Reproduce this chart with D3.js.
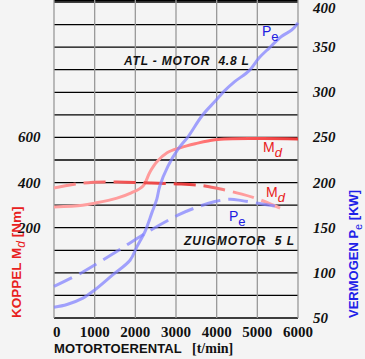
<!DOCTYPE html>
<html><head><meta charset="utf-8">
<script src="https://cdn.jsdelivr.net/npm/d3@7"></script>
<style>body{margin:0;background:#f4f4f4;}svg{display:block;}</style>
</head><body>
<script>
// Data (rpm, value)
const rpmTicks = [0,1000,2000,3000,4000,5000,6000];
const kwTicks = [50,100,150,200,250,300,350,400];
const nmTicks = [200,400,600];
// Turbo (ATL) torque, Nm
const atlTorque = [[0,292],[700,300],[1000,309],[1550,331],[1900,354],[2190,385],[2360,447],[2530,492],[2780,532],[3100,554],[3470,572],[3960,590],[5000,595],[6000,593]];
// Turbo (ATL) power, kW
const atlPower = [[0,62],[320,65],[710,72],[1000,81],[1450,98],[1870,114],[2040,129],[2240,146],[2410,167],[2530,182],[2600,196],[2800,218],[3050,237],[3300,251],[3640,274],[3960,290],[4180,301],[4450,312],[4800,324],[5040,338],[5290,349],[5600,362],[5850,369],[6000,377]];
// Naturally aspirated (ZUIG) torque, Nm
const zuigTorque = [[0,376],[710,398],[1550,403],[2360,398],[3100,394],[3710,385],[4200,367],[4620,349],[5020,327],[5560,287]];
// Naturally aspirated (ZUIG) power, kW
const zuigPower = [[0,85],[710,101],[1550,124],[2290,145],[3100,165],[3470,172],[3960,179],[4330,181.5],[4620,180],[5020,177],[5430,174]];

const W=365,H=359;
const x = d3.scaleLinear().domain([0,6000]).range([54,298]);
const yK = d3.scaleLinear().domain([50,400]).range([318,2]);
const yN = d3.scaleLinear().domain([-200,1200]).range([318,2]);

const svg = d3.select("body").append("svg").attr("width",W).attr("height",H);
svg.append("rect").attr("width",W).attr("height",H).attr("fill","#f4f4f4");

const defs = svg.append("defs");
function grad(id, stops){
  const g = defs.append("linearGradient").attr("id",id).attr("gradientUnits","userSpaceOnUse")
    .attr("x1",x(0)).attr("x2",x(6000)).attr("y1",0).attr("y2",0);
  stops.forEach(s=>g.append("stop").attr("offset",s[0]).attr("stop-color",s[1]));
}
grad("gRed1",[[0,"#ffa0a0"],[0.45,"#ff9a9a"],[0.7,"#ff6060"],[1,"#ee3a3a"]]);
grad("gRed2",[[0,"#ffa0a0"],[0.3,"#f05050"],[0.55,"#e84040"],[0.75,"#ff9a9a"],[1,"#ffb0b0"]]);

// grid
const grid = svg.append("g");
kwTicks.concat([75,125,175,225,275,325,375]).forEach(v=>{
  grid.append("line").attr("x1",x(0)).attr("x2",x(6000)).attr("y1",yK(v)).attr("y2",yK(v))
    .attr("stroke","#000").attr("stroke-width",1.3);
});
grid.append("line").attr("x1",x(0)).attr("x2",x(6000)).attr("y1",0.5).attr("y2",0.5).attr("stroke","#000").attr("stroke-width",1.3);
rpmTicks.forEach(v=>{
  grid.append("line").attr("x1",x(v)).attr("x2",x(v)).attr("y1",0).attr("y2",yK(50))
    .attr("stroke","#999").attr("stroke-width",1.3);
});

const lineK = d3.line().x(d=>x(d[0])).y(d=>yK(d[1])).curve(d3.curveCatmullRom);
const lineN = d3.line().x(d=>x(d[0])).y(d=>yN(d[1])).curve(d3.curveCatmullRom);

svg.append("path").attr("d",lineN(atlTorque)).attr("fill","none").attr("stroke","url(#gRed1)").attr("stroke-width",3);
svg.append("path").attr("d",lineN(zuigTorque)).attr("fill","none").attr("stroke","url(#gRed2)").attr("stroke-width",3).attr("stroke-dasharray","22,8");
svg.append("path").attr("d",lineK(atlPower)).attr("fill","none").attr("stroke","#8080ff").attr("stroke-opacity",0.72).attr("stroke-width",3);
svg.append("path").attr("d",lineK(zuigPower)).attr("fill","none").attr("stroke","#8080ff").attr("stroke-opacity",0.72).attr("stroke-width",3).attr("stroke-dasharray","20,8");

// tick labels
const serif = "'Liberation Serif','DejaVu Serif',serif";
const sans = "'Liberation Sans',Arial,sans-serif";
svg.append("g").selectAll("text").data(kwTicks).join("text")
  .attr("x",313).attr("y",d=>Math.max(13,yK(d)+5)).attr("font-family",serif).attr("font-weight","bold").attr("font-style","italic")
  .attr("font-size",15).attr("fill","#111").text(d=>d);
svg.append("g").selectAll("text").data(nmTicks).join("text")
  .attr("x",18).attr("y",d=>yN(d)+5).attr("font-family",serif).attr("font-weight","bold").attr("font-style","italic")
  .attr("font-size",15).attr("fill","#111").text(d=>d);
svg.append("g").selectAll("text").data(rpmTicks).join("text")
  .attr("x",d=>x(d)).attr("y",337).attr("text-anchor",(d,i)=>i===0?"start":"middle")
  .attr("font-family",serif).attr("font-weight","bold").attr("font-size",15).attr("fill","#111")
  .attr("dx",(d,i)=>i===0?-1:0).text(d=>d);

// axis titles
svg.append("text").attr("x",54).attr("y",353).attr("font-family",sans).attr("font-weight","bold").attr("font-size",13)
  .attr("letter-spacing",0.1).attr("fill","#111").text("MOTORTOERENTAL");
svg.append("text").attr("x",192).attr("y",353).attr("font-family",serif).attr("font-weight","bold").attr("font-size",14)
  .attr("fill","#111").text("[t/min]");

const kop = svg.append("text").attr("transform","translate(21,318) rotate(-90)").attr("font-family",sans)
  .attr("font-weight","bold").attr("font-size",13.5).attr("fill","#e82020");
kop.append("tspan").text("KOPPEL M");
kop.append("tspan").attr("dy",4).attr("font-size",12).attr("font-style","italic").attr("font-weight","normal").text("d");
kop.append("tspan").attr("dy",-4).text(" [Nm]");

const ver = svg.append("text").attr("transform","translate(358,318) rotate(-90)").attr("font-family",sans)
  .attr("font-weight","bold").attr("font-size",13).attr("fill","#2020e8");
ver.append("tspan").text("VERMOGEN P");
ver.append("tspan").attr("dy",4).attr("font-size",11).attr("font-weight","normal").text("e");
ver.append("tspan").attr("dy",-4).text(" [KW]");

// in-plot labels
function lab(txt, sub, px, py, color, subItalic){
  const t = svg.append("text").attr("x",px).attr("y",py).attr("font-family",sans).attr("font-size",14).attr("fill",color);
  t.append("tspan").text(txt);
  t.append("tspan").attr("dy",5).attr("font-size",13).attr("font-style",subItalic?"italic":"normal").text(sub);
}
lab("P","e",262,36,"#2020e0",false);
lab("M","d",263,152,"#e82020",true);
lab("M","d",266,197,"#e82020",true);
lab("P","e",229,221,"#2020e0",false);

svg.append("text").attr("x",124).attr("y",65).attr("font-family",sans).attr("font-weight","bold").attr("font-style","italic")
  .attr("font-size",12).attr("letter-spacing",0.8).attr("fill","#111").attr("xml:space","preserve").text("ATL - MOTOR  4.8 L");
svg.append("text").attr("x",184).attr("y",245).attr("font-family",sans).attr("font-weight","bold").attr("font-style","italic")
  .attr("font-size",12).attr("letter-spacing",1.0).attr("fill","#111").attr("xml:space","preserve").text("ZUIGMOTOR  5 L");
</script>
</body></html>
